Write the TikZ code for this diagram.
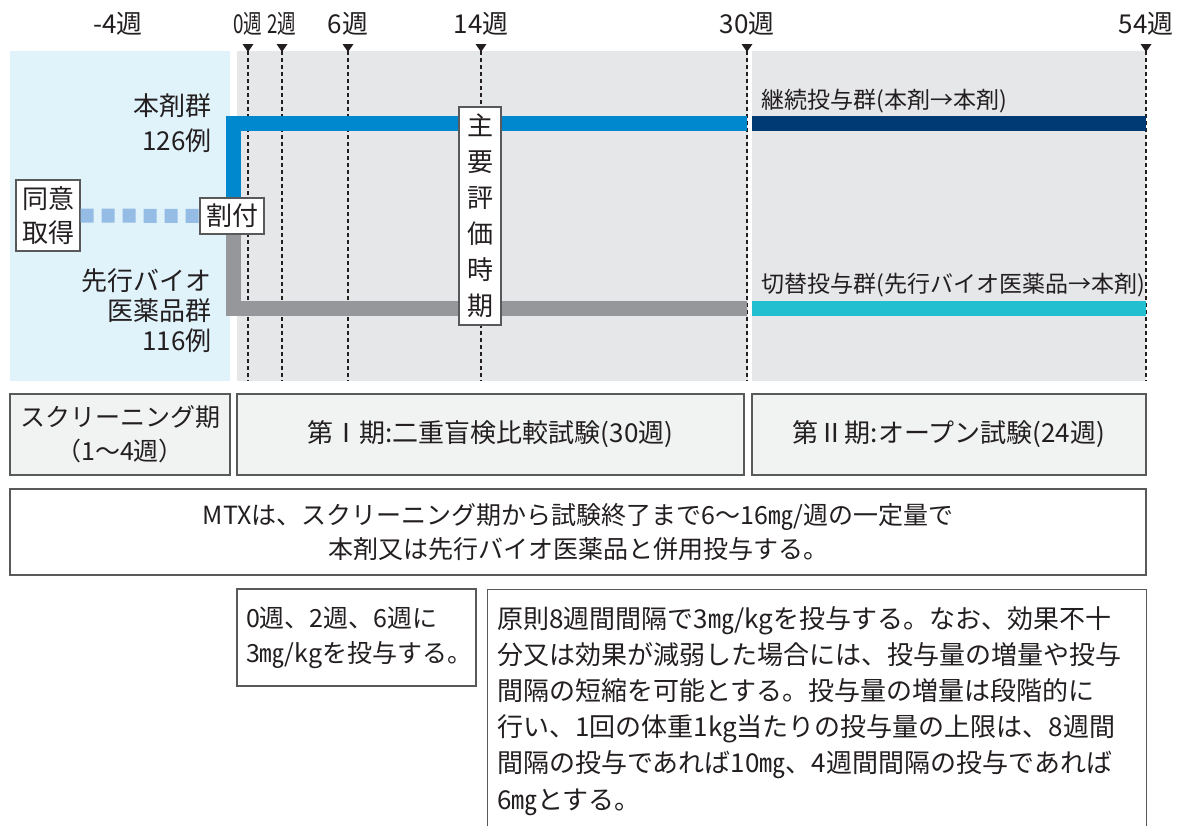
\documentclass[tikz,border=0pt]{standalone}
\usepackage{fontspec}
\setmainfont{Noto Sans CJK JP}
\usetikzlibrary{positioning}
\definecolor{screenbg}{HTML}{E0F2FA}
\definecolor{periodbg}{HTML}{E6E7E9}
\definecolor{hontaiblue}{HTML}{0088CF}
\definecolor{contnavy}{HTML}{003A75}
\definecolor{biogray}{HTML}{96979A}
\definecolor{switchcyan}{HTML}{21BFCF}
\definecolor{dotblue}{HTML}{94BCE4}
\definecolor{phasefill}{HTML}{F1F2F2}
\definecolor{framegray}{HTML}{58595B}
\definecolor{inkgray}{HTML}{231F20}
\tikzset{
  weeklabel/.style={font=\fontsize{26}{30}\selectfont, inner sep=0pt},
  weekline/.style={inkgray, line width=1.8pt, dash pattern=on 4pt off 3pt},
  weekmark/.style={fill=inkgray},
  armbar/.style={line width=15pt},
  labelbox/.style={draw=framegray, line width=1.3pt, fill=white, inner sep=0pt},
  phasebox/.style={draw=framegray, line width=1.3pt, fill=phasefill, inner sep=0pt, align=center},
  notebox/.style={draw=framegray, line width=1.3pt, fill=white, inner sep=0pt},
}
\begin{document}
\begin{tikzpicture}[x=1pt,y=-1pt,inkgray,font=\fontsize{26}{35}\selectfont]
  \useasboundingbox (0,0) rectangle (1186,825);
  % background fields
  \fill[screenbg] (10,51) rectangle (230,381);
  \fill[periodbg] (237,51) rectangle (748,381);
  \fill[periodbg] (752,51) rectangle (1146,381);

  % week marks
  \node[weeklabel] (wm4) at (118,24) {-4週};
  \foreach \x/\wk/\nm/\sx in {248/0/w0/0.72, 282/2/w2/0.72, 348/6/w6/1, 481/14/w14/1, 747/30/w30/1, 1146/54/w54/1} {
    \draw[weekline] (\x,51) -- (\x,381);
    \fill[weekmark] (\x-5.5,44) -- (\x+5.5,44) -- (\x,52) -- cycle;
    \node[weeklabel, xscale=\sx] (\nm) at (\x,24) {{\wk}週};
  }

  % treatment arms
  \coordinate (split) at (233.5,216);
  \coordinate (armAend) at (747,123.5);
  \coordinate (armBend) at (747,308.5);
  \coordinate (contstart) at (752,123.5);
  \coordinate (contend) at (1146,123.5);
  \coordinate (switchstart) at (752,308.5);
  \coordinate (switchend) at (1146,308.5);
  \draw[armbar, hontaiblue] (split) |- (armAend);
  \draw[armbar, biogray] (split) |- (armBend);
  \draw[armbar, contnavy] (contstart) -- (contend);
  \draw[armbar, switchcyan] (switchstart) -- (switchend);

  \node[labelbox, minimum width=64, minimum height=36] (alloc) at (232,216) {割付};
  \node[labelbox, minimum width=64, minimum height=71, align=center, font=\fontsize{26}{34}\selectfont] (consent) at (48,215.5) {同意\\取得};
  \draw[dotblue, line width=14pt, dash pattern=on 13pt off 8pt] (consent.east) -- (alloc.west);
  \node[labelbox, minimum width=42, minimum height=218, align=center, font=\fontsize{26}{36}\selectfont] (primary) at (480,216) {主\\要\\評\\価\\時\\期};

  \node[anchor=east, align=right] (armA) at (215,123) {本剤群\\126例};
  \node[anchor=east, align=right, font=\fontsize{26}{30}\selectfont] (armB) at (215,311) {先行バイオ\\医薬品群\\116例};
  \node[anchor=west, font=\fontsize{23}{28}\selectfont] (contlab) at (758,101) {継続投与群(本剤→本剤)};
  \node[anchor=west, font=\fontsize{23}{28}\selectfont] (switchlab) at (758,285) {切替投与群(先行バイオ医薬品→本剤)};

  % study periods
  \node[phasebox, minimum width=220, minimum height=81, font=\fontsize{25}{34}\selectfont] (screen) at (120,434.5) {スクリーニング期\\（1～4週）};
  \node[phasebox, minimum width=507, minimum height=81] (phase1) at (490.5,434.5) {第Ⅰ期:二重盲検比較試験(30週)};
  \node[phasebox, minimum width=394, minimum height=81] (phase2) at (949,434.5) {第Ⅱ期:オープン試験(24週)};

  % dosing notes
  \node[notebox, minimum width=1136, minimum height=86, align=center, font=\fontsize{25}{34}\selectfont] (mtx) at (578,532) {MTXは、スクリーニング期から試験終了まで6～16㎎/週の一定量で\\本剤又は先行バイオ医薬品と併用投与する。};
  \node[notebox, minimum width=239, minimum height=97, align=left, text width=221, font=\fontsize{25}{35}\selectfont] (induct) at (356.5,637.5) {0週、2週、6週に\\3㎎/kgを投与する。};
  \node[notebox, minimum width=659, minimum height=260, anchor=north west] (maint) at (487,589) {};
  \node[anchor=north west, align=left, inner sep=0pt, font=\fontsize{26}{36.2}\selectfont] (mainttxt) at (497,606) {原則8週間間隔で3㎎/kgを投与する。なお、効果不十\\分又は効果が減弱した場合には、投与量の増量や投与\\間隔の短縮を可能とする。投与量の増量は段階的に\\行い、1回の体重1kg当たりの投与量の上限は、8週間\\間隔の投与であれば10㎎、4週間間隔の投与であれば\\6㎎とする。};
\end{tikzpicture}
\end{document}
